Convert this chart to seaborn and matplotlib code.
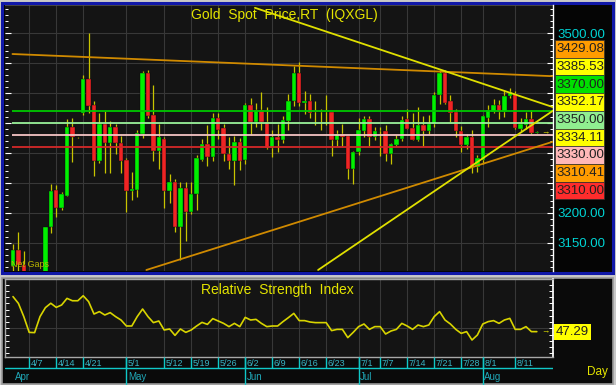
import numpy as np
import pandas as pd
import seaborn as sns
import matplotlib
matplotlib.use("Agg")
import matplotlib.pyplot as plt
from matplotlib.patches import Rectangle
from matplotlib.ticker import MultipleLocator, FuncFormatter
from matplotlib.transforms import blended_transform_factory

W, H = 616, 385

# trading days on the chart (weekdays, 2 Apr - 15 Aug)
dates = pd.bdate_range("2025-04-02", "2025-08-15")

opens = [3112, 3138, 3114, 3037, 2982, 2982, 3082, 3176, 3239, 3209,
         3229, 3343, 3326, 3366, 3423, 3380, 3287, 3348, 3317, 3344,
         3316, 3288, 3237, 3239, 3332, 3433, 3364, 3304, 3324, 3236,
         3252, 3176, 3241, 3202, 3231, 3289, 3315, 3293, 3358, 3342,
         3299, 3286, 3319, 3289, 3380, 3351, 3372, 3352, 3309, 3326,
         3321, 3353, 3386, 3433, 3383, 3387, 3370, 3369, 3368, 3369,
         3322, 3332, 3328, 3274, 3302, 3337, 3356, 3326, 3337, 3336,
         3299, 3313, 3323, 3356, 3341, 3322, 3347, 3337, 3349, 3397,
         3433, 3387, 3369, 3336, 3313, 3327, 3276, 3288, 3359, 3369,
         3380, 3369, 3395, 3398, 3340, 3347, 3356, 3334]
highs = [3148, 3168, 3136, 3055, 3020, 3099, 3177, 3248, 3247, 3235,
         3357, 3358, 3327, 3430, 3500, 3387, 3366, 3370, 3353, 3348,
         3328, 3291, 3269, 3338, 3437, 3438, 3414, 3348, 3326, 3265,
         3257, 3252, 3252, 3252, 3297, 3324, 3347, 3366, 3366, 3348,
         3326, 3328, 3325, 3384, 3392, 3384, 3402, 3376, 3338, 3348,
         3362, 3398, 3445, 3451, 3403, 3399, 3387, 3374, 3397, 3369,
         3339, 3349, 3329, 3304, 3358, 3361, 3362, 3344, 3344, 3347,
         3317, 3330, 3361, 3374, 3366, 3376, 3361, 3363, 3402, 3438,
         3438, 3396, 3373, 3345, 3332, 3339, 3297, 3363, 3380, 3390,
         3388, 3405, 3408, 3404, 3358, 3369, 3372, 3336]
lows = [3100, 3054, 3015, 2957, 2970, 2957, 3070, 3167, 3194, 3205,
        3228, 3285, 3325, 3364, 3367, 3262, 3284, 3266, 3267, 3299,
        3267, 3202, 3222, 3227, 3325, 3358, 3287, 3274, 3208, 3216,
        3168, 3121, 3154, 3199, 3205, 3287, 3278, 3287, 3323, 3286,
        3274, 3246, 3272, 3281, 3330, 3343, 3339, 3306, 3294, 3302,
        3316, 3339, 3378, 3378, 3365, 3359, 3347, 3339, 3347, 3295,
        3311, 3312, 3256, 3248, 3296, 3327, 3311, 3322, 3295, 3287,
        3282, 3311, 3320, 3340, 3321, 3320, 3311, 3332, 3344, 3382,
        3381, 3351, 3326, 3302, 3306, 3267, 3269, 3281, 3344, 3366,
        3356, 3360, 3391, 3340, 3336, 3340, 3332, 3333]
closes = [3138, 3114, 3037, 2982, 2982, 3082, 3177, 3237, 3209, 3232,
          3343, 3326, 3326, 3423, 3378, 3287, 3349, 3317, 3344, 3316,
          3287, 3237, 3240, 3333, 3433, 3361, 3304, 3327, 3236, 3252,
          3176, 3241, 3202, 3231, 3291, 3315, 3294, 3359, 3339, 3299,
          3286, 3319, 3287, 3380, 3351, 3372, 3351, 3309, 3326, 3321,
          3355, 3387, 3434, 3383, 3387, 3367, 3369, 3368, 3369, 3322,
          3332, 3327, 3274, 3302, 3338, 3356, 3326, 3337, 3336, 3299,
          3315, 3324, 3355, 3340, 3322, 3346, 3337, 3349, 3397, 3433,
          3384, 3367, 3336, 3313, 3327, 3276, 3291, 3362, 3372, 3380,
          3369, 3395, 3401, 3341, 3349, 3356, 3333, 3334.11]
rsi = [75.3, 69.9, 59.3, 46.7, 46.5, 59.3, 66.5, 70.0, 66.7, 68.6,
       73.9, 72.0, 72.0, 76.0, 71.3, 61.4, 63.3, 60.6, 62.5, 59.3,
       56.6, 51.8, 51.8, 59.3, 65.4, 59.3, 54.5, 55.8, 48.6, 49.4,
       44.3, 49.4, 46.7, 48.6, 51.8, 54.7, 53.1, 57.7, 55.8, 53.9,
       51.3, 53.9, 51.3, 58.7, 56.6, 57.1, 53.9, 51.3, 51.8, 51.8,
       55.3, 58.5, 61.9, 56.1, 56.1, 55.0, 54.5, 54.5, 54.5, 48.1,
       49.1, 49.1, 42.5, 46.7, 51.3, 53.4, 49.1, 51.3, 51.3, 45.4,
       47.8, 49.1, 53.9, 51.8, 49.1, 52.6, 51.3, 52.6, 59.3, 63.3,
       56.6, 53.4, 49.1, 45.9, 47.3, 40.6, 44.6, 53.4, 55.3, 56.1,
       53.9, 56.6, 57.9, 49.1, 49.1, 51.3, 47.3, 47.29]

# drawn trendlines (end points as day index / price)
trend_names = ["upper", "lower", "falling", "rising"]
trend_days = [[-0.1, 100], [24.7, 100], [44.8, 100], [56.5, 100]]
trend_prices = [[3465.0, 3428.0], [3105.0, 3318.9], [3542.0, 3376.5], [3105.0, 3370.5]]
trend_colors = {"upper": "#d08a00", "lower": "#d08a00", "falling": "#e0e000", "rising": "#e0e000"}

levels = [3370, 3350, 3330, 3310]
level_colors = ["#00c800", "#98f098", "#f4c4c4", "#d42828"]

box_values = [3429.08, 3385.53, 3370.00, 3352.17, 3350.00, 3334.11, 3330.00, 3310.41, 3310.00]
box_colors = ["#ff9c00", "#ffff00", "#00e000", "#ffff00", "#90ee90", "#ffff00", "#ffb8b8", "#ff9c00", "#ff2c2c"]
axis_labels = [3500, 3200, 3150]

tick_days = ["4/7", "4/14", "4/21", "5/1", "5/12", "5/19", "5/26", "6/2", "6/9",
             "6/16", "6/23", "7/1", "7/7", "7/14", "7/21", "7/28", "8/1", "8/11"]
month_names = ["Apr", "May", "Jun", "Jul", "Aug"]

df = pd.DataFrame({"day": np.arange(len(dates)), "open": opens, "high": highs,
                   "low": lows, "close": closes, "rsi": rsi})
labels = [f"{d.month}/{d.day}" for d in dates]
tick_idx = [labels.index(t) for t in tick_days]
month_idx = [int(np.argmax(dates.month == m)) for m in range(4, 9)]

sns.set_theme(style="dark", rc={"axes.facecolor": "#141414", "figure.facecolor": "#c8c8c8"})
plt.rcParams["font.family"] = ["Liberation Sans", "DejaVu Sans"]

CYAN = "#10c8c8"
YEL = "#e4e400"
LAB = 9.5

fig = plt.figure(figsize=(W / 100, H / 100), dpi=100)


def px_axes(x0, y0, x1, y1):
    return fig.add_axes([x0 / W, 1 - y1 / H, (x1 - x0) / W, (y1 - y0) / H])


# panel backgrounds (behind the axes)
fig.patches.append(Rectangle((2 / W, 1 - 273 / H), 611 / W, 270 / H, transform=fig.transFigure,
                             facecolor="#050505", edgecolor="#1018a8", lw=2.2, zorder=-5))
fig.patches.append(Rectangle((2 / W, 1 - 384 / H), 611 / W, 106 / H, transform=fig.transFigure,
                             facecolor="#0a0a0a", edgecolor="#9a9a9a", lw=1.2, zorder=-5))

xlim = ((5 - 13) / 5.4, (553 - 13) / 5.4)

# ---- price panel
ax = px_axes(5, 5, 553, 271)
ax.set_xlim(*xlim)
ax.set_ylim(3103.3, 3546.7)
for x in tick_idx:
    ax.axvline(x, color="#383838", lw=0.8, zorder=0)
for y in range(3150, 3501, 50):
    ax.axhline(y, color="#383838", lw=0.8, zorder=0)
ax.axhline(3546.7, color="#505050", lw=1.2, zorder=1)

up = df.close >= df.open
body_lo = df[["open", "close"]].min(axis=1)
body_h = (df.close - df.open).abs().clip(lower=1.3)
ax.vlines(df.day, df.low, df.high, color="#c8c400", lw=0.9, zorder=2)
ax.bar(df.day, body_h, bottom=body_lo, width=0.8, color=np.where(up, "#00f000", "#f02424"),
       edgecolor="#0a0a0a", linewidth=0.3, zorder=3)

ax.hlines(levels, -0.1, 100, colors=level_colors, lw=1.3, zorder=4)

trend = pd.DataFrame({"line": np.repeat(trend_names, 2),
                      "day": np.ravel(trend_days), "price": np.ravel(trend_prices)})
sns.lineplot(data=trend, x="day", y="price", hue="line", palette=trend_colors,
             legend=False, lw=1.3, ax=ax, zorder=5)

ax.text(98.6, closes[-1], "\u2192", color=YEL, fontsize=6, ha="center", va="center", zorder=6)
ax.text(0.51, 3541, "Gold  Spot  Price,RT  (IQXGL)", color=YEL, fontsize=10,
        ha="center", va="top", zorder=7, transform=blended_transform_factory(ax.transAxes, ax.transData))
ax.text(-0.3, 3106, "Net Gaps", color="#b8b400", fontsize=6.5, ha="left", va="bottom", zorder=7)

ax.yaxis.set_major_locator(MultipleLocator(50))
ax.yaxis.set_minor_locator(MultipleLocator(10))
ax.yaxis.set_major_formatter(FuncFormatter(lambda v, p: f"{v:.2f}" if round(v) in axis_labels else ""))
ax.tick_params(axis="y", which="both", direction="in", left=True, right=True,
               labelleft=False, labelright=True, colors="white", labelcolor="#00d4d4",
               labelsize=LAB, pad=3)
ax.tick_params(axis="y", which="major", length=4, width=0.8)
ax.tick_params(axis="y", which="minor", length=2.5, width=0.7)
ax.tick_params(axis="x", bottom=False, labelbottom=False)
ax.set_xlabel("")
ax.set_ylabel("")
for s in ["left", "top", "bottom"]:
    ax.spines[s].set_visible(False)
ax.spines["right"].set_color("white")
ax.spines["right"].set_linewidth(1)

# stacked value boxes on the right
lab = px_axes(553, 5, 613, 271)
lab.set_xlim(553, 613)
lab.set_ylim(271, 5)
lab.axis("off")
lab.patch.set_visible(False)
for k, (v, c) in enumerate(zip(box_values, box_colors)):
    top = 40 + k * 17.7
    lab.add_patch(Rectangle((555, top), 49, 17.7, facecolor=c, edgecolor="#303030", lw=0.5))
    lab.text(556.5, top + 9.3, f"{v:.2f}", color="#202020", fontsize=LAB, ha="left", va="center")

# ---- RSI panel
ar = px_axes(5, 279, 553, 357)
ar.set_xlim(*xlim)
ar.set_ylim(27.0, 89.4)
for x in tick_idx:
    ar.axvline(x, color="#383838", lw=0.8, zorder=0)
ar.axhline(50, color="#383838", lw=0.8, zorder=0)
sns.lineplot(data=df, x="day", y="rsi", color="#d8d400", lw=1.2, ax=ar, zorder=3)
ar.text(98.6, rsi[-1], "\u2192", color=YEL, fontsize=6, ha="center", va="center")
ar.text(0.497, 0.86, "Relative  Strength  Index", color=YEL, fontsize=10, ha="center",
        va="center", transform=ar.transAxes)
ar.text(1.005, rsi[-1], f"{rsi[-1]:.2f}", color="#202020", fontsize=LAB, ha="left", va="center",
        transform=blended_transform_factory(ar.transAxes, ar.transData), clip_on=False,
        bbox=dict(boxstyle="square,pad=0.15", facecolor="#ffff00", edgecolor="none"))
ar.yaxis.set_major_locator(MultipleLocator(10))
ar.yaxis.set_minor_locator(MultipleLocator(5))
ar.tick_params(axis="y", which="both", direction="in", left=True, right=True,
               labelleft=False, labelright=False, colors="white", length=3, width=0.7)
ar.tick_params(axis="x", bottom=False, labelbottom=False)
ar.set_xlabel("")
ar.set_ylabel("")
for s in ["left", "top", "bottom"]:
    ar.spines[s].set_color("#a8a8a8")
    ar.spines[s].set_linewidth(1)
ar.spines["right"].set_color("white")

# ---- date rows
ad = px_axes(5, 357, 553, 385)
ad.set_xlim(*xlim)
ad.set_ylim(385, 357)
ad.set_facecolor("#121212")
ad.axis("off")
ad.axhline(368, color=CYAN, lw=1)
ad.vlines(tick_idx, 357, 368, color=CYAN, lw=1)
ad.vlines(month_idx[1:], 357, 385, color=CYAN, lw=1)
for x, t in zip(tick_idx, tick_days):
    ad.text(x + 0.3, 363, t, color="#38b4c4", fontsize=6.5, ha="left", va="center")
for x, t in zip(month_idx, month_names):
    ad.text(x + 0.3, 377, t, color="#20a8b8", fontsize=7, ha="left", va="center")
fig.text(597 / W, 1 - 372 / H, "Day", color=YEL, fontsize=8.5, ha="center", va="center")

fig.savefig("out.png", dpi=100, facecolor=fig.get_facecolor())
